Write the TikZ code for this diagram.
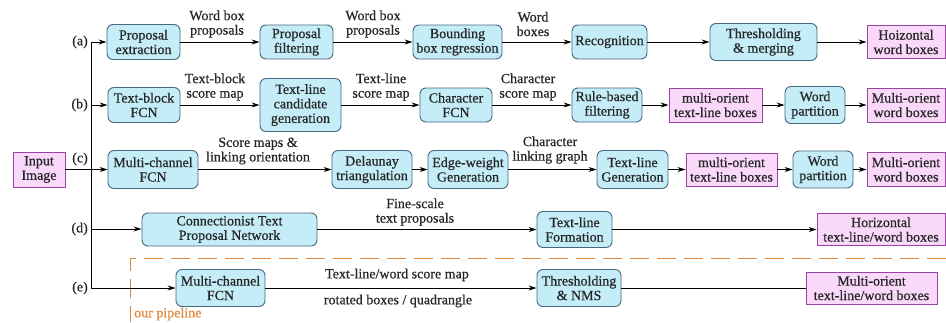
\documentclass[tikz,border=0pt]{standalone}
\usepackage{fontspec}
\setmainfont{Liberation Serif}
\newfontfamily\diagfont{Liberation Serif}[FakeBold=0.6]
\usetikzlibrary{arrows.meta}
\definecolor{procfill}{RGB}{196,237,248}
\definecolor{procdraw}{RGB}{70,105,125}
\definecolor{datafill}{RGB}{249,216,250}
\definecolor{datadraw}{RGB}{150,70,160}
\definecolor{pipe}{RGB}{222,135,60}
\tikzset{
  txt/.style={font=\diagfont\fontsize{14}{14.5}\selectfont, align=center, inner sep=0pt, text=black!85},
  proc/.style={txt, draw=procdraw, fill=procfill, rounded corners=6pt, line width=0.9pt},
  data/.style={txt, draw=datadraw, fill=datafill, line width=0.9pt},
  arr/.style={-{Stealth[length=8pt,width=5pt]}, line width=0.8pt},
  link/.style={line width=0.8pt},
  sz/.style 2 args={minimum width=#1pt, minimum height=#2pt},
}
\begin{document}
\begin{tikzpicture}[x=1pt, y=-1pt]
\useasboundingbox (0,0) rectangle (946,322);

% pipeline frame
\draw[pipe, line width=0.9pt, dash pattern=on 19pt off 8pt] (946,258) -- (130,258) -- (130,322);
\node[txt, text=pipe, anchor=west] (ourpipe) at (134,314) {our pipeline};

% input
\node[data, sz={52}{35}] (in) at (39,169.5) {Input\\Image};

% branch trunk
\coordinate (ta) at (91,42);
\coordinate (tb) at (91,105);
\coordinate (td) at (91,229);
\coordinate (te) at (91,288);
\draw[link] (ta) -- (te);
\node[txt, anchor=east] (la) at (88,42) {(a)};
\node[txt, anchor=east] (lb) at (88,105) {(b)};
\node[txt, anchor=east] (lc) at (88,159) {(c)};
\node[txt, anchor=east] (ld) at (88,229) {(d)};
\node[txt, anchor=east] (le) at (88,288) {(e)};

% row (a)
\node[proc, sz={73}{35}] (pe) at (143.5,42) {Proposal\\extraction};
\node[proc, sz={73}{34}] (pf) at (296.5,42) {Proposal\\filtering};
\node[proc, sz={89}{34}] (bbr) at (457.5,42) {Bounding\\box regression};
\node[proc, sz={75}{34}] (rec) at (609.5,42) {Recognition};
\node[proc, sz={107}{37}] (tm) at (763.5,42) {Thresholding\\\& merging};
\node[data, sz={78}{33}] (hwb) at (906,42) {Hoizontal\\word boxes};
\node[txt] (la1) at (217,24) {Word box\\proposals};
\node[txt] (la2) at (373,24) {Word box\\proposals};
\node[txt] (la3) at (533,24) {Word\\boxes};
\draw[arr] (ta) -- (pe);
\draw[arr] (pe) -- (pf);
\draw[arr] (pf) -- (bbr);
\draw[arr] (bbr) -- (rec);
\draw[arr] (rec) -- (tm);
\draw[arr] (tm) -- (hwb);

% row (b)
\node[proc, sz={72}{35}] (tbf) at (144,105) {Text-block\\FCN};
\node[proc, sz={81}{53}] (tlcg) at (300.5,105) {Text-line\\candidate\\generation};
\node[proc, sz={72}{34}] (cf) at (456,105) {Character\\FCN};
\node[proc, sz={70}{34}] (rbf) at (607,105) {Rule-based\\filtering};
\node[data, sz={93}{34}] (mtl1) at (715.5,105) {multi-orient\\text-line boxes};
\node[proc, sz={60}{37}] (wp1) at (815,105) {Word\\partition};
\node[data, sz={78}{34}] (mwb1) at (906,105) {Multi-orient\\word boxes};
\node[txt] (lb1) at (215,87) {Text-block\\score map};
\node[txt] (lb2) at (381,87) {Text-line\\score map};
\node[txt] (lb3) at (528,87) {Character\\score map};
\draw[arr] (tb) -- (tbf);
\draw[arr] (tbf) -- (tlcg);
\draw[arr] (tlcg) -- (cf);
\draw[arr] (cf) -- (rbf);
\draw[arr] (rbf) -- (mtl1);
\draw[arr] (mtl1) -- (wp1);
\draw[arr] (wp1) -- (mwb1);

% row (c)
\node[proc, sz={90}{38}] (mcf) at (153,169.5) {Multi-channel\\FCN};
\node[proc, sz={80}{38}] (dt) at (372,169.5) {Delaunay\\triangulation};
\node[proc, sz={80}{38}] (ewg) at (468,169.5) {Edge-weight\\Generation};
\node[proc, sz={71}{38}] (tlg) at (632.5,169.5) {Text-line\\Generation};
\node[data, sz={91}{33}] (mtl2) at (731.5,169.5) {multi-orient\\text-line boxes};
\node[proc, sz={60}{37}] (wp2) at (823,169.5) {Word\\partition};
\node[data, sz={78}{34}] (mwb2) at (906,169.5) {Multi-orient\\word boxes};
\node[txt] (lc1) at (258,151) {Score maps \&\\linking orientation};
\node[txt] (lc2) at (550,150) {Character\\linking graph};
\draw[arr] (in) -- (mcf);
\draw[arr] (mcf) -- (dt);
\draw[arr] (dt) -- (ewg);
\draw[arr] (ewg) -- (tlg);
\draw[arr] (tlg) -- (mtl2);
\draw[arr] (mtl2) -- (wp2);
\draw[arr] (wp2) -- (mwb2);

% row (d)
\node[proc, sz={175}{33}] (ctpn) at (229.5,229.5) {Connectionist Text\\Proposal Network};
\node[proc, sz={75}{36}] (tlf) at (574.5,229.5) {Text-line\\Formation};
\node[data, sz={128}{32}] (htw) at (881,229.5) {Horizontal\\text-line/word boxes};
\node[txt] (ld1) at (415,212) {Fine-scale\\text proposals};
\draw[arr] (td) -- (td -| ctpn.west);
\draw[arr] (ctpn) -- (tlf);
\draw[arr] (tlf) -- (htw);

% row (e)
\node[proc, sz={89}{37}] (mcf2) at (220.5,288) {Multi-channel\\FCN};
\node[proc, sz={84}{37}] (tn) at (579,288) {Thresholding\\\& NMS};
\node[data, sz={131}{32}] (mtw) at (871.5,288) {Multi-orient\\text-line/word boxes};
\node[txt] (le1) at (397,275) {Text-line/word score map};
\node[txt] (le2) at (398,301) {rotated boxes / quadrangle};
\draw[arr] (te) -- (mcf2);
\draw[arr] (mcf2) -- (tn);
\draw[link] (tn) -- (mtw);
\end{tikzpicture}
\end{document}
